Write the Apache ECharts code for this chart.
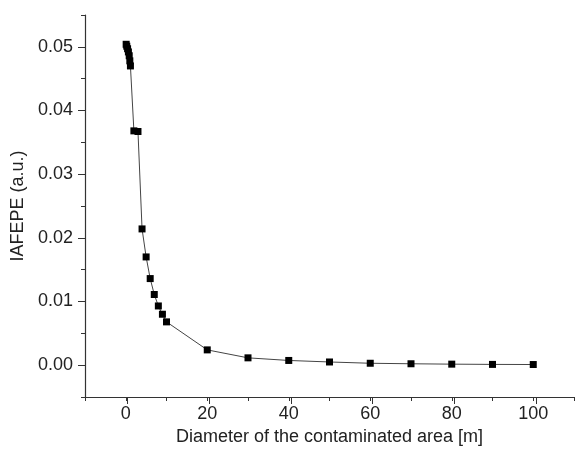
<!DOCTYPE html>
<html>
<head>
<meta charset="utf-8">
<script src="https://cdn.jsdelivr.net/npm/echarts@6/dist/echarts.min.js"></script>
<style>html,body{margin:0;padding:0;background:#fff}#c{width:577px;height:462px}</style>
</head>
<body>
<div id="c"></div>
<script>
var diameters = [0.1, 0.25, 0.45, 0.65, 0.85, 1.0, 1.15, 2, 3, 4, 5, 6, 7, 8, 9, 10, 20, 30, 40, 50, 60, 70, 80, 90, 100];
var iafepe = [0.0504, 0.0501, 0.0497, 0.0492, 0.0486, 0.0478, 0.0470, 0.0368, 0.0367, 0.0214, 0.0170, 0.0136, 0.0111, 0.0093, 0.0080, 0.0068, 0.0024, 0.00115, 0.00074, 0.0005, 0.0003, 0.00022, 0.00016, 0.00012, 0.0001];
var xTitle = 'Diameter of the contaminated area [m]';
var yTitle = 'IAFEPE (a.u.)';

var pts = diameters.map(function (d, i) { return [d, iafepe[i]]; });
var font = 'Liberation Sans, Arial, sans-serif';
var axisCol = '#333';

// main grid geometry
var gL = 85, gT = 15, gB = 65, gR = -19.4;
var W = 577, H = 462;
var pxPerX = (W - gR - gL) / 120;          // x range -10..110
var pxPerY = (H - gB - gT) / 0.06;         // y range -0.005..0.055
var x0px = gL + 10 * pxPerX;
var y0px = H - gB - 0.005 * pxPerY;
var y5px = gT + 0.005 * pxPerY;

var chart = echarts.init(document.getElementById('c'));
chart.setOption({
  animation: false,
  grid: [
    { left: gL, top: gT, bottom: gB, right: gR },
    { left: x0px, top: y5px, bottom: H - y0px, right: gR }
  ],
  xAxis: [{
    type: 'value', min: -10, max: 110, interval: 10, gridIndex: 0,
    axisLine: { onZero: false, lineStyle: { color: axisCol, width: 1.2 } },
    axisTick: { length: 4, lineStyle: { color: axisCol } },
    splitLine: { show: false },
    axisLabel: {
      color: '#222', fontFamily: font, fontSize: 18, margin: 8,
      formatter: function (v) { return (Math.round(v) % 20 === 0 && v >= 0 && v <= 100) ? String(Math.round(v)) : ''; }
    },
    name: xTitle, nameLocation: 'middle', nameGap: 31,
    nameTextStyle: { color: '#222', fontFamily: font, fontSize: 18 }
  }, {
    type: 'value', min: 0, max: 110, interval: 20, gridIndex: 1, position: 'bottom',
    offset: (H - gB) - y0px,
    axisLine: { show: false, onZero: false },
    axisTick: { length: 7, lineStyle: { color: axisCol } },
    axisLabel: { show: false }, splitLine: { show: false }
  }],
  yAxis: [{
    type: 'value', min: -0.005, max: 0.055, interval: 0.005, gridIndex: 0,
    axisLine: { show: true, onZero: false, lineStyle: { color: axisCol, width: 1.2 } },
    axisTick: { show: true, length: 4, lineStyle: { color: axisCol } },
    splitLine: { show: false },
    axisLabel: {
      color: '#222', fontFamily: font, fontSize: 18, margin: 12,
      formatter: function (v) {
        var k = Math.round(v * 1000);
        return (k % 10 === 0 && k >= 0 && k <= 50) ? (k / 1000).toFixed(2) : '';
      }
    },
    name: yTitle, nameLocation: 'middle', nameGap: 57, nameRotate: 90,
    nameTextStyle: { color: '#222', fontFamily: font, fontSize: 18 }
  }, {
    type: 'value', min: 0, max: 0.05, interval: 0.01, gridIndex: 1, position: 'left',
    offset: x0px - gL,
    axisLine: { show: false, onZero: false },
    axisTick: { show: true, length: 7, lineStyle: { color: axisCol } },
    axisLabel: { show: false }, splitLine: { show: false }
  }],
  series: [{
    type: 'line', data: pts, xAxisIndex: 0, yAxisIndex: 0,
    symbol: 'rect', symbolSize: 7,
    lineStyle: { color: '#444', width: 1 },
    itemStyle: { color: '#000' }
  }]
});
</script>
</body>
</html>
